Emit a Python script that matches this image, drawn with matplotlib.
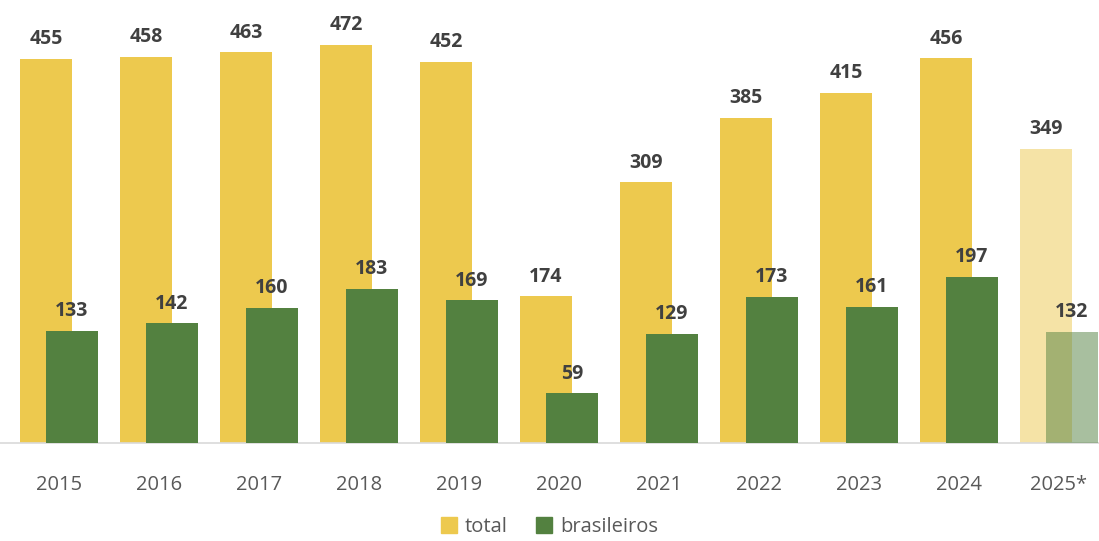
import matplotlib.pyplot as plt
import numpy as np
from matplotlib.patches import Patch

plt.rcParams['font.family'] = ['Open Sans', 'DejaVu Sans']

anos = ['2015', '2016', '2017', '2018', '2019', '2020', '2021', '2022', '2023', '2024', '2025*']
total = [455, 458, 463, 472, 452, 174, 309, 385, 415, 456, 349]
brasileiros = [133, 142, 160, 183, 169, 59, 129, 173, 161, 197, 132]

amarelo = '#EDC94E'
verde = '#538140'
txt = '#404040'

fig = plt.figure(figsize=(10.99, 5.41), dpi=100)
ax = fig.add_axes([0, 0.181, 1, 0.819])

x = np.arange(len(anos))
w = 0.52
off = 0.13
for i in x:
    a = 0.5 if i == len(anos) - 1 else 1.0
    ax.bar(i - off, total[i], w, color=amarelo, alpha=a, zorder=2)
for i in x:
    a = 0.5 if i == len(anos) - 1 else 1.0
    ax.bar(i + off, brasileiros[i], w, color=verde, alpha=a, zorder=3)

# rotulos
for i in x:
    ax.annotate(str(total[i]), (i - off, total[i]), xytext=(0, 7), textcoords='offset points',
                ha='center', va='bottom', fontsize=14, fontweight='bold', color=txt, zorder=5)
    ax.annotate(str(brasileiros[i]), (i + off, brasileiros[i]), xytext=(0, 7), textcoords='offset points',
                ha='center', va='bottom', fontsize=14, fontweight='bold', color=txt, zorder=5)

ax.set_xlim(-0.59, 10.4)
ax.set_ylim(0, 525)
ax.set_xticks(x)
ax.set_xticklabels(anos, fontsize=14.5, color='#595959')
ax.tick_params(axis='x', length=0, pad=23)
ax.set_yticks([])
for s in ['top', 'right', 'left']:
    ax.spines[s].set_visible(False)
ax.spines['bottom'].set_color('#D9D9D9')
ax.spines['bottom'].set_linewidth(1.2)

handles = [Patch(color=amarelo, label='total'), Patch(color=verde, label='brasileiros')]
fig.legend(handles=handles, loc='lower center', bbox_to_anchor=(0.5, -0.026), ncol=2, frameon=False,
           fontsize=14.5, labelcolor='#595959', handlelength=0.8, handleheight=0.8, handletextpad=0.4,
           columnspacing=1.4)

fig.savefig('out.png', dpi=100)
